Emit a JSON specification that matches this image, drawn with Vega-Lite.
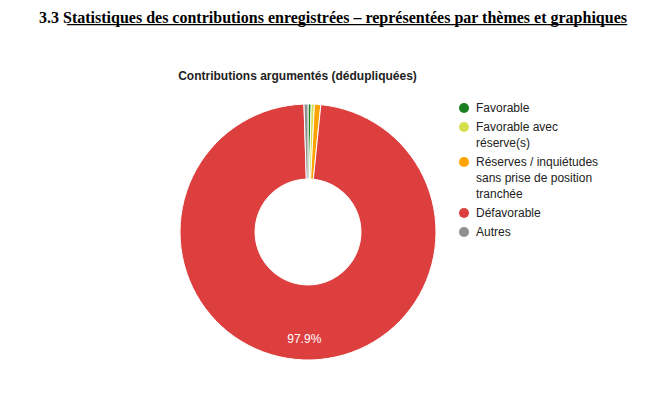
{
  "$schema": "https://vega.github.io/schema/vega-lite/v6.json",
  "background": "white",
  "padding": {"left": 38, "top": 9, "right": 0, "bottom": 0},
  "title": {
    "text": "3.3 Statistiques des contributions enregistrées – représentées par thèmes et graphiques",
    "subtitle": "\u200b\u00a0\u00a0\u00a0\u00a0\u00a0\u00a0\u00a0______________________________________________________________________\u200b",
    "font": "Liberation Serif",
    "fontSize": 16,
    "fontWeight": "bold",
    "color": "#000",
    "subtitleFont": "Liberation Serif",
    "subtitleFontSize": 16,
    "subtitleFontWeight": "bold",
    "subtitleColor": "#000",
    "subtitlePadding": -16,
    "anchor": "middle",
    "frame": "group",
    "dx": 25,
    "offset": 44
  },
  "vconcat": [
    {
      "title": {
        "text": "Contributions argumentés (dédupliquées)",
        "font": "Liberation Sans",
        "fontSize": 12,
        "fontWeight": "bold",
        "color": "#222",
        "anchor": "middle",
        "frame": "group",
        "dx": -10.5,
        "offset": 19.5
      },
      "width": 256,
      "height": 256,
      "data": {
        "values": [
          {"avis": "Favorable", "part": 0.4, "ord": 1, "lbl": ""},
          {"avis": "Favorable avec réserve(s)", "part": 0.4, "ord": 2, "lbl": ""},
          {"avis": "Réserves / inquiétudes sans prise de position tranchée", "part": 0.8, "ord": 3, "lbl": ""},
          {"avis": "Défavorable", "part": 97.9, "ord": 4, "lbl": "97.9%"},
          {"avis": "Autres", "part": 0.5, "ord": 5, "lbl": ""}
        ]
      },
      "encoding": {
        "theta": {"field": "part", "type": "quantitative", "stack": true},
        "order": {"field": "ord", "type": "quantitative"}
      },
      "layer": [
        {
          "mark": {"type": "arc", "innerRadius": 53, "outerRadius": 128, "stroke": "#ffffff", "strokeWidth": 1},
          "encoding": {
            "color": {
              "field": "avis",
              "type": "nominal",
              "scale": {
                "domain": ["Favorable", "Favorable avec réserve(s)", "Réserves / inquiétudes sans prise de position tranchée", "Défavorable", "Autres"],
                "range": ["#1a7f1f", "#d4e04c", "#ffa300", "#dd3e3e", "#8f8f8f"]
              },
              "legend": {
                "title": null,
                "orient": "none",
                "legendX": 278,
                "legendY": -2,
                "symbolType": "circle",
                "symbolSize": 100,
                "symbolStrokeWidth": 0,
                "symbolOpacity": 1,
                "labelFont": "Liberation Sans",
                "labelFontSize": 12,
                "labelColor": "#222",
                "labelOffset": 6,
                "labelLimit": 300,
                "rowPadding": 7,
                "labelBaseline": "alphabetic",
                "labelExpr": "datum.label == 'Favorable avec réserve(s)' ? ['Favorable avec', 'réserve(s)'] : datum.label == 'Réserves / inquiétudes sans prise de position tranchée' ? ['Réserves / inquiétudes', 'sans prise de position', 'tranchée'] : datum.label"
              }
            }
          }
        },
        {
          "mark": {"type": "text", "radius": 107.5, "font": "Liberation Sans", "fontSize": 12},
          "encoding": {
            "detail": {"field": "avis"},
            "text": {"field": "lbl"},
            "color": {"value": "#ffffff"}
          }
        }
      ]
    }
  ],
  "config": {
    "view": {"stroke": null},
    "style": {"guide-label": {"dy": 4, "lineHeight": 16}}
  }
}
